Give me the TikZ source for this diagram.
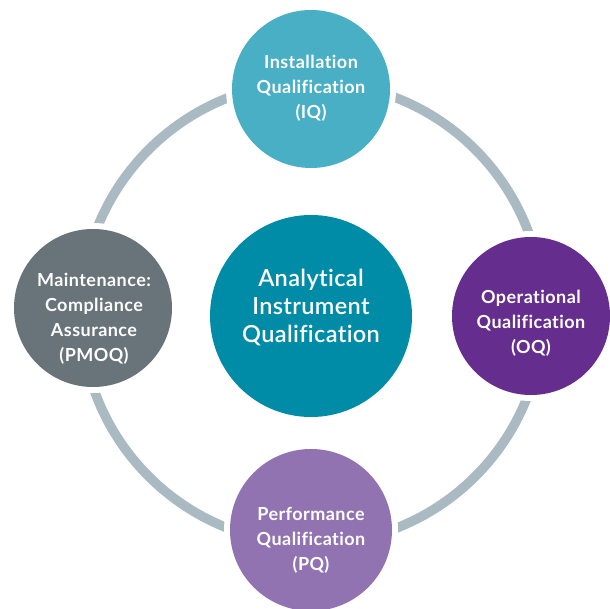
\documentclass[tikz,border=0pt]{standalone}
\usepackage{fontspec}
\setmainfont{Lato}[Ligatures=CommonOff]
\newfontfamily\semib{Lato Semibold}[Ligatures=CommonOff,LetterSpace=1.5]
\newfontfamily\boldf{Lato Bold}[Ligatures=CommonOff,LetterSpace=2.5]
\definecolor{ringc}{HTML}{A9BAC3}
\definecolor{iqc}{HTML}{48AFC4}
\definecolor{aiqc}{HTML}{008CA6}
\definecolor{oqc}{HTML}{652D8E}
\definecolor{pqc}{HTML}{9173B1}
\definecolor{pmc}{HTML}{68737A}
\tikzset{
  ring/.style={draw=ringc, line width=9.5pt},
  halo/.style={circle, fill=white, inner sep=0pt, minimum size=#1},
  bubble/.style={circle, inner sep=0pt, minimum size=158pt},
  small/.style={text=white, align=center, font=\boldf\fontsize{18}{25}\selectfont},
  big/.style={text=white, align=center, font=\semib\fontsize{23.5}{28}\selectfont}
}
\begin{document}
\begin{tikzpicture}[x=1pt,y=-1pt]
\useasboundingbox (0,0) rectangle (610,609);
\coordinate (c) at (312,313);
\draw[ring] (c) circle (231pt);
% white halos cutting the ring
\node[halo=170pt] (iqh) at (311,89) {};
\node[halo=170pt] (oqh) at (531,316) {};
\node[halo=174pt] (pqh) at (311,530) {};
\node[halo=170pt] (pmh) at (93,308) {};
% bubbles
\node[bubble, fill=iqc] (iq) at (311,89) {};
\node[bubble, fill=oqc] (oq) at (531,316) {};
\node[bubble, fill=pqc, minimum size=162pt] (pq) at (311,530) {};
\node[bubble, fill=pmc] (pm) at (93,308) {};
\node[circle, inner sep=0pt, minimum size=202pt, fill=aiqc] (aiq) at (311,316) {};
% texts
\node[small] (iqt) at (311,88.5) {Installation\\Qualification\\(IQ)};
\node[small] (oqt) at (531,323.5) {Operational\\Qualification\\(OQ)};
\node[small] (pqt) at (311,540.5) {Performance\\Qualification\\(PQ)};
\node[small] (pmt) at (94,319) {Maintenance:\\Compliance\\Assurance\\(PMOQ)};
\node[big] (aiqt) at (311,307.5) {Analytical\\Instrument\\Qualification};
\end{tikzpicture}
\end{document}
